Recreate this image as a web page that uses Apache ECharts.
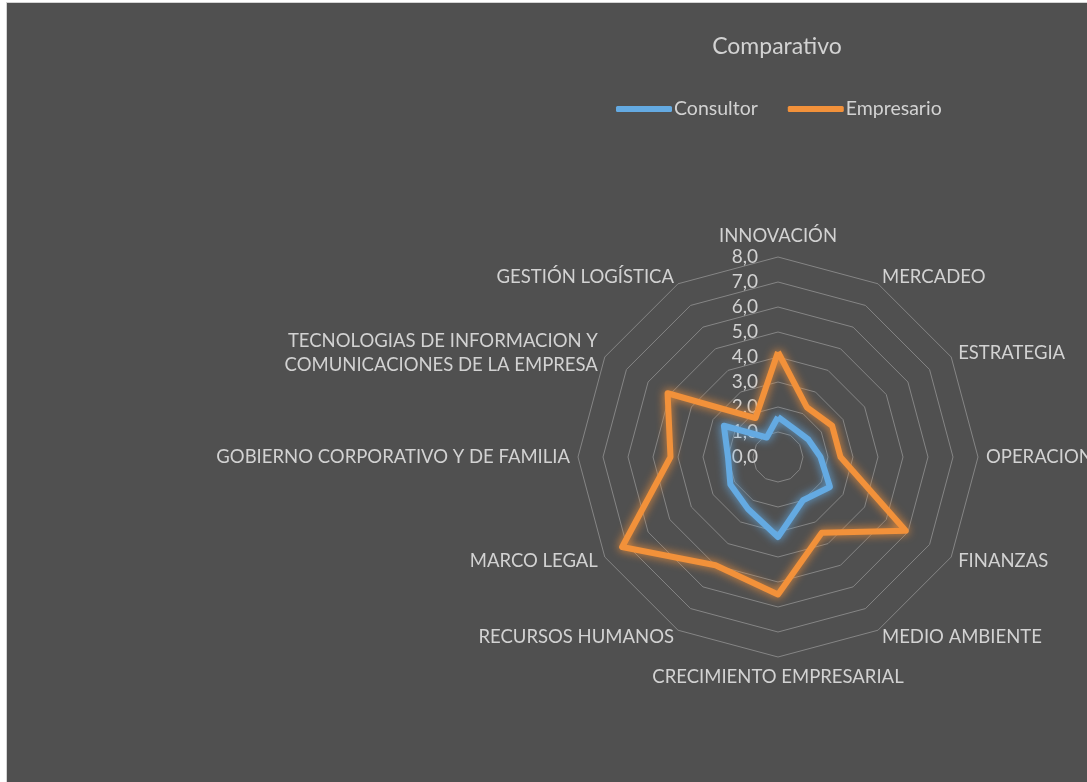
<!DOCTYPE html>
<html>
<head>
<meta charset="utf-8">
<script src="https://cdn.jsdelivr.net/npm/echarts@6/dist/echarts.min.js"></script>
<style>
  html, body { margin: 0; padding: 0; background: #fff; overflow: hidden; }
  #chart {
    position: absolute; left: 6px; top: 2px;
    width: 1090px; height: 790px;
    border: 1px solid #d4d4d4;
  }
</style>
</head>
<body>
<div id="chart"></div>
<script>
// clockwise from the top
const categories = [
  "INNOVACIÓN", "MERCADEO", "ESTRATEGIA", "OPERACIONES", "FINANZAS",
  "MEDIO AMBIENTE", "CRECIMIENTO EMPRESARIAL", "RECURSOS HUMANOS",
  "MARCO LEGAL", "GOBIERNO CORPORATIVO Y DE FAMILIA",
  "TECNOLOGIAS DE INFORMACION Y\nCOMUNICACIONES DE LA EMPRESA",
  "GESTIÓN LOGÍSTICA"
];
const consultor = [1.6, 1.3, 1.4, 1.7, 2.4, 2.0, 3.2, 2.4, 2.2, 2.0, 2.5, 0.9];
const empresario = [4.2, 2.3, 2.5, 2.5, 5.9, 3.5, 5.5, 5.0, 7.2, 4.3, 5.1, 1.8];
const seriesNames = ["Consultor", "Empresario"];
const axisMax = 8;

const textColor = "#d2d2d2";
const font = "Lato";

// echarts radar goes counter-clockwise, so feed it the axes in reverse (keeping the first on top)
const order = [0].concat(categories.map((c, i) => i).slice(1).reverse());
const reorder = arr => order.map(i => arr[i]);

const indicators = reorder(categories).map(function (name, i) {
  const ind = { name: name, min: 0, max: axisMax };
  if (i === 0) {
    ind.axisLabel = {
      show: true,
      color: textColor,
      fontFamily: font,
      fontSize: 19,
      margin: 20,
      formatter: function (v) { return v.toFixed(1).replace(".", ","); }
    };
  }
  return ind;
});

function lineSeries(name, values, color) {
  return {
    name: name,
    value: reorder(values),
    symbol: "none",
    lineStyle: {
      color: color,
      width: 6,
      shadowColor: color,
      shadowBlur: 10
    },
    itemStyle: { color: color }
  };
}

const chart = echarts.init(document.getElementById("chart"));
chart.setOption({
  backgroundColor: "#505050",
  animation: false,
  title: {
    text: "Comparativo",
    left: 765,
    textAlign: "center",
    top: 27,
    textStyle: { color: textColor, fontFamily: font, fontSize: 23, fontWeight: "normal" }
  },
  legend: {
    data: seriesNames,
    top: 91,
    left: 604,
    itemWidth: 56,
    itemHeight: 6,
    itemGap: 30,
    icon: "roundRect",
    textStyle: { color: textColor, fontFamily: font, fontSize: 19.5, padding: [0, 0, 0, -3] }
  },
  radar: {
    center: [771, 454],
    radius: 200,
    startAngle: 90,
    splitNumber: 8,
    shape: "polygon",
    indicator: indicators,
    nameGap: 8,
    axisName: { color: textColor, fontFamily: font, fontSize: 18.5, lineHeight: 24 },
    axisLine: { show: false },
    axisTick: { show: false },
    axisLabel: { show: false },
    splitLine: { lineStyle: { color: "#858585", width: 1 } },
    splitArea: { show: false }
  },
  series: [{
    type: "radar",
    data: [
      lineSeries(seriesNames[0], consultor, "#64AAE2"),
      lineSeries(seriesNames[1], empresario, "#F2913A")
    ]
  }]
});
</script>
</body>
</html>
